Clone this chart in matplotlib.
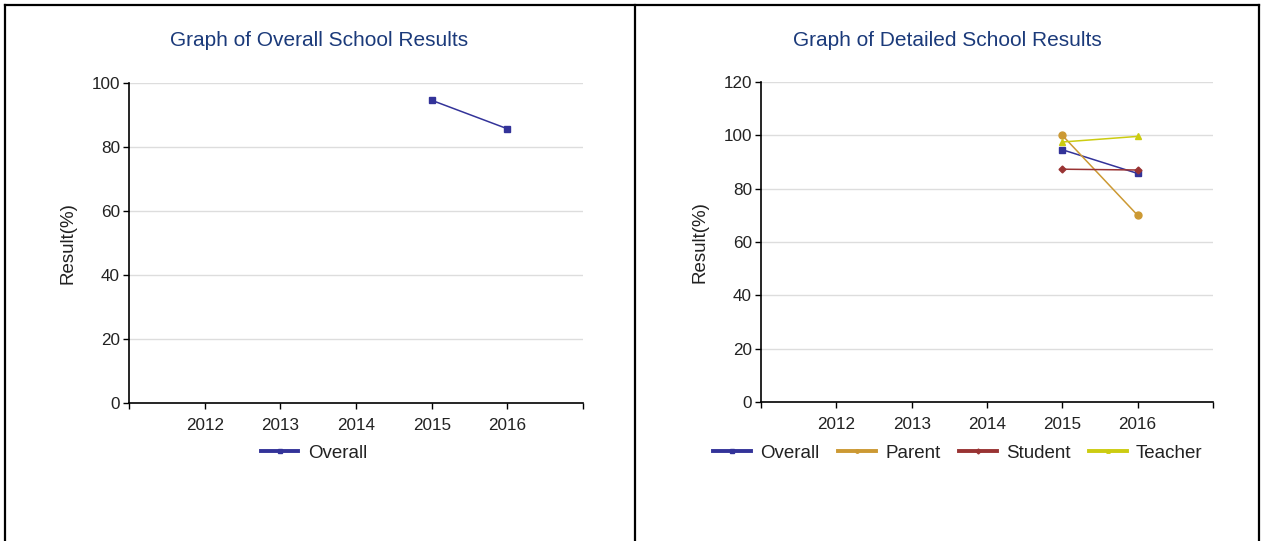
import numpy as np
import matplotlib
matplotlib.use("Agg")
import matplotlib.pyplot as plt
from matplotlib.lines import Line2D

plt.rcParams['font.family'] = ['Liberation Sans', 'DejaVu Sans']

years = [2012, 2013, 2014, 2015, 2016]
nan = np.nan
overall = [nan, nan, nan, 94.6, 85.7]
parent = [nan, nan, nan, 100.0, 70.0]
student = [nan, nan, nan, 87.3, 87.0]
teacher = [nan, nan, nan, 97.5, 99.6]

left_title = "Graph of Overall School Results"
right_title = "Graph of Detailed School Results"
y_label = "Result(%)"

styles = {
    "Overall": dict(color="#333399", marker="s", ms=5),
    "Parent": dict(color="#CC9933", marker="o", ms=5),
    "Student": dict(color="#993333", marker="D", ms=3.5),
    "Teacher": dict(color="#CCCC11", marker="^", ms=4.5),
}

W, H = 1264, 541
fig = plt.figure(figsize=(W / 100, H / 100), dpi=100)
fig.patch.set_facecolor("white")


def fx(px):
    return px / W


def fy(py):
    return 1 - py / H


# outer frame and the divider between the two panels
for xs, ys in [((5, 1259), (5, 5)), ((5, 5), (5, H)), ((1259, 1259), (5, H)),
               ((635, 635), (5, H))]:
    fig.add_artist(Line2D([fx(x) for x in xs], [fy(y) for y in ys],
                          transform=fig.transFigure, color="black", lw=1.6))

text_color = "#222222"
tick_fs = 12.3
label_fs = 13.5


def setup_axes(ax, ymax, ystep):
    ax.set_xlim(2011, 2017)
    ax.set_ylim(0, ymax)
    ticks = list(range(2011, 2018))
    ax.set_xticks(ticks)
    ax.set_xticklabels([str(t) if t in years else "" for t in ticks])
    yt = list(range(0, ymax + 1, ystep))
    ax.set_yticks(yt)
    for v in yt[1:]:
        ax.axhline(v, color="#dddddd", lw=1, zorder=0)
    for s in ("top", "right"):
        ax.spines[s].set_visible(False)
    for s in ("left", "bottom"):
        ax.spines[s].set_color("black")
        ax.spines[s].set_linewidth(1.2)
    ax.tick_params(axis="both", direction="out", length=4.5, width=1,
                   colors="black", labelcolor=text_color, labelsize=tick_fs)
    ax.tick_params(axis="x", pad=6)
    ax.tick_params(axis="y", pad=2)
    ax.set_ylabel(y_label, fontsize=label_fs, color=text_color)


def draw_series(ax, series):
    handles = []
    for name, vals in series:
        st = styles[name]
        ax.plot(years, vals, color=st["color"], lw=1.1, marker=st["marker"],
                ms=st["ms"], mec=st["color"], mfc=st["color"], zorder=3)
        handles.append(Line2D([], [], color=st["color"], lw=2.8,
                              marker=st["marker"], ms=2.5, mec=st["color"],
                              mfc=st["color"], label=name))
    return handles


# left panel
axL = fig.add_axes([fx(129), fy(403), fx(583) - fx(129), fy(83) - fy(403)])
setup_axes(axL, 100, 20)
axL.yaxis.set_label_coords((77 - 129) / 454, 0.5)
hL = draw_series(axL, [("Overall", overall)])

# right panel
axR = fig.add_axes([fx(761), fy(402), fx(1213) - fx(761), fy(82) - fy(402)])
setup_axes(axR, 120, 20)
axR.yaxis.set_label_coords((708 - 761) / 452, 0.5)
hR = draw_series(axR, [("Overall", overall), ("Parent", parent),
                       ("Student", student), ("Teacher", teacher)])

title_color = "#1b3a7a"
fig.text(fx(319), fy(41), left_title, ha="center", va="center",
         fontsize=15, color=title_color)
fig.text(fx(947), fy(41), right_title, ha="center", va="center",
         fontsize=15, color=title_color)

leg_kw = dict(loc="center", frameon=False, fontsize=label_fs, handlelength=2.0,
              handletextpad=0.5, columnspacing=1.0, labelcolor=text_color,
              borderpad=0.2)
fig.legend(handles=hL, bbox_to_anchor=(fx(314), fy(453)), ncol=1, **leg_kw)
fig.legend(handles=hR, bbox_to_anchor=(fx(958), fy(453)), ncol=4, **leg_kw)

fig.savefig("out.png", dpi=100, facecolor="white")
